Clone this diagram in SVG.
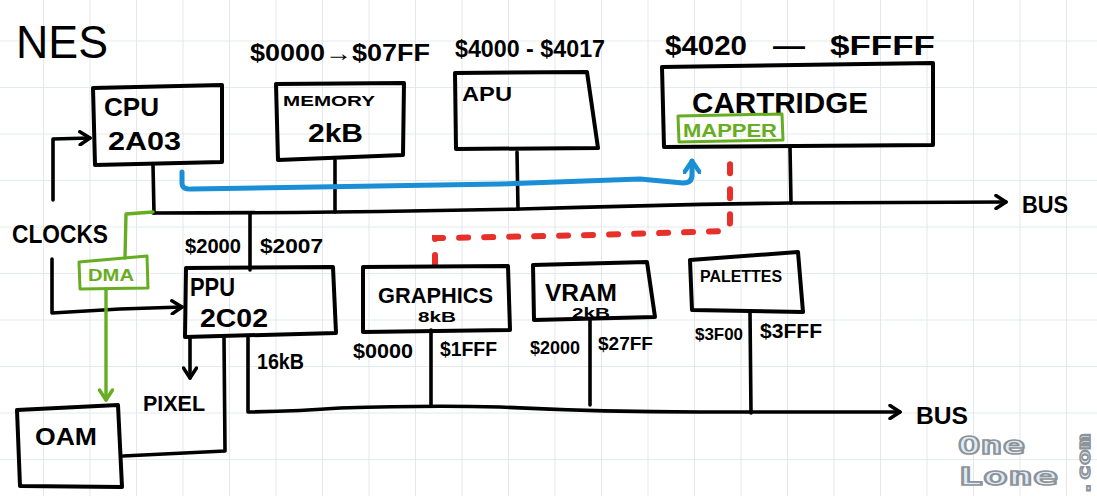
<svg xmlns="http://www.w3.org/2000/svg" width="1097" height="496" viewBox="0 0 1097 496">
<defs>
<pattern id="grid" x="43" y="40.5" width="46.5" height="46.5" patternUnits="userSpaceOnUse">
<path d="M0,0 H46.5 M0,0 V46.5" fill="none" stroke="#dde4e7" stroke-width="1.6"/>
</pattern>
<marker id="arrK" viewBox="0 0 14 16" refX="12" refY="8" markerWidth="14" markerHeight="16" markerUnits="userSpaceOnUse" orient="auto">
<path d="M2,1.5 L12,8 L2,14.5" fill="none" stroke="#000" stroke-width="3.5" stroke-linecap="round" stroke-linejoin="round"/>
</marker>
<marker id="arrG" viewBox="0 0 14 16" refX="12" refY="8" markerWidth="14" markerHeight="16" markerUnits="userSpaceOnUse" orient="auto">
<path d="M2,1.5 L12,8 L2,14.5" fill="none" stroke="#66ad22" stroke-width="3.5" stroke-linecap="round" stroke-linejoin="round"/>
</marker>
<marker id="arrB" viewBox="0 0 16 18" refX="13" refY="9" markerWidth="16" markerHeight="18" markerUnits="userSpaceOnUse" orient="auto">
<path d="M2,1.5 L13,9 L2,16.5" fill="none" stroke="#1b8fd6" stroke-width="4.5" stroke-linecap="round" stroke-linejoin="round"/>
</marker>
</defs>
<style>
.bx{fill:none;stroke:#000;stroke-width:4;stroke-linejoin:round;stroke-linecap:round}
.gbx{fill:none;stroke:#66ad22;stroke-width:3;stroke-linejoin:round}
.ln{fill:none;stroke:#000;stroke-width:3.6;stroke-linecap:round;stroke-linejoin:round}
.gln{fill:none;stroke:#66ad22;stroke-width:3.4;stroke-linecap:round;stroke-linejoin:round}
.bln{fill:none;stroke:#1b8fd6;stroke-width:5;stroke-linecap:round;stroke-linejoin:round}
.rln{fill:none;stroke:#e8302a;stroke-width:6;stroke-linecap:round;stroke-dasharray:9 16}
text{font-family:"Liberation Sans","DejaVu Sans",sans-serif;fill:#000;font-weight:bold}
.g{fill:#66ad22}
.title{font-weight:normal}
.logo{font-family:"DejaVu Sans Mono","Liberation Mono",monospace;font-weight:bold;fill:#dcecf8;stroke:#8e9398;stroke-width:1.6}
</style>
<rect width="1097" height="496" fill="#ffffff"/>
<rect width="1097" height="496" fill="url(#grid)"/>

<g id="connectors">
<path class="ln" d="M153,213 Q240,213 335,212 Q430,211 520,209 Q650,205 790,203 L1006,202" marker-end="url(#arrK)"/>
<path class="ln" d="M153,165 L154,213"/>
<path class="ln" d="M335,160 L335,212"/>
<path class="ln" d="M517,152 L518,209"/>
<path class="ln" d="M790,147 L791,203"/>
<path class="ln" d="M250,213 L250,270"/>
<path class="ln" d="M53,200 L53,139 L90,138" marker-end="url(#arrK)"/>
<path class="ln" d="M52,259 L52,313 L120,309 L182,307" marker-end="url(#arrK)"/>
<path class="gln" d="M125,258 L126,214 L153,212"/>
<path class="gln" d="M106,289 L106,400" marker-end="url(#arrG)"/>
<path class="ln" d="M190,337 L190,378" marker-end="url(#arrK)"/>
<path class="ln" d="M224,338 L225,451 L123,456"/>
<path class="ln" d="M248,337 L248,412 Q300,411 340,408 Q430,405 500,407 Q600,412 700,412 L900,412" marker-end="url(#arrK)"/>
<path class="ln" d="M431,330 L431,405"/>
<path class="ln" d="M590,320 L590,405"/>
<path class="ln" d="M750,312 L751,413"/>
<path class="rln" d="M435,264 L435,238 Q580,236 722,231 Q730,230 730,222 L730,152"/>
<path class="bln" d="M182,172 L182,183 Q182,190 192,189 L500,184 L640,179 L683,183 Q692,183 692,175 L692,161" marker-end="url(#arrB)"/>
</g>

<g id="title"><text class="title" x="16" y="58" font-size="46" textLength="92" lengthAdjust="spacingAndGlyphs">NES</text></g>

<g id="cpu">
<path class="bx" d="M93,88 L222,85 L222,162 L95,165 Z"/>
<text x="104" y="116" font-size="26" textLength="55" lengthAdjust="spacingAndGlyphs">CPU</text>
<text x="108" y="150" font-size="26" textLength="73" lengthAdjust="spacingAndGlyphs">2A03</text>
</g>

<g id="memory">
<text x="250" y="61" font-size="24" textLength="180" lengthAdjust="spacingAndGlyphs">$0000→$07FF</text>
<path class="bx" d="M276,84 L404,83 L403,155 L278,160 Z"/>
<text x="283" y="106" font-size="15" textLength="92" lengthAdjust="spacingAndGlyphs">MEMORY</text>
<text x="308" y="142" font-size="26" textLength="55" lengthAdjust="spacingAndGlyphs">2kB</text>
</g>

<g id="apu">
<text x="455" y="57" font-size="24" textLength="150" lengthAdjust="spacingAndGlyphs">$4000 - $4017</text>
<path class="bx" d="M455,73 L587,72 L598,148 L456,149 Z"/>
<text x="462" y="101" font-size="20" textLength="50" lengthAdjust="spacingAndGlyphs">APU</text>
</g>

<g id="cartridge">
<text y="55" font-size="28"><tspan x="665" textLength="82" lengthAdjust="spacingAndGlyphs">$4020</tspan><tspan x="773" textLength="32" lengthAdjust="spacingAndGlyphs">—</tspan><tspan x="830" textLength="105" lengthAdjust="spacingAndGlyphs">$FFFF</tspan></text>
<path class="bx" d="M662,67 L933,63 L933,145 L664,147 Z"/>
<text x="692" y="113" font-size="30" textLength="176" lengthAdjust="spacingAndGlyphs">CARTRIDGE</text>
<g id="mapper">
<path class="gbx" d="M678,116 L782,114 L783,140 L679,142 Z"/>
<text class="g" x="683" y="137" font-size="19" textLength="94" lengthAdjust="spacingAndGlyphs">MAPPER</text>
</g>
</g>

<g id="bus-top"><text x="1022" y="213" font-size="24" textLength="46" lengthAdjust="spacingAndGlyphs">BUS</text></g>

<g id="clocks"><text x="12" y="243" font-size="26" textLength="96" lengthAdjust="spacingAndGlyphs">CLOCKS</text></g>

<g id="dma">
<path class="gbx" d="M79,262 L147,256 L148,288 L80,289 Z"/>
<text class="g" x="88" y="281" font-size="16" textLength="46" lengthAdjust="spacingAndGlyphs">DMA</text>
</g>

<g id="ppu">
<text x="185" y="253" font-size="20" textLength="56" lengthAdjust="spacingAndGlyphs">$2000</text>
<text x="260" y="253" font-size="20" textLength="63" lengthAdjust="spacingAndGlyphs">$2007</text>
<path class="bx" d="M186,268 L333,267 L336,333 L185,337 Z"/>
<text x="190" y="296" font-size="26" textLength="45" lengthAdjust="spacingAndGlyphs">PPU</text>
<text x="200" y="327" font-size="26" textLength="68" lengthAdjust="spacingAndGlyphs">2C02</text>
<text x="257" y="369" font-size="22" textLength="47" lengthAdjust="spacingAndGlyphs">16kB</text>
</g>

<g id="pixel"><text x="143" y="411" font-size="22" textLength="62" lengthAdjust="spacingAndGlyphs">PIXEL</text></g>

<g id="oam">
<path class="bx" d="M17,410 L118,405 L122,487 L20,486 Z"/>
<text x="35" y="445" font-size="24" textLength="62" lengthAdjust="spacingAndGlyphs">OAM</text>
</g>

<g id="graphics">
<path class="bx" d="M363,267 L508,266 L510,330 L363,332 Z"/>
<text x="378" y="303" font-size="22" textLength="115" lengthAdjust="spacingAndGlyphs">GRAPHICS</text>
<text x="418" y="322" font-size="15" textLength="38" lengthAdjust="spacingAndGlyphs">8kB</text>
<text x="353" y="358" font-size="20" textLength="60" lengthAdjust="spacingAndGlyphs">$0000</text>
<text x="440" y="356" font-size="20" textLength="57" lengthAdjust="spacingAndGlyphs">$1FFF</text>
</g>

<g id="vram">
<path class="bx" d="M533,265 L647,262 L655,317 L534,320 Z"/>
<text x="545" y="301" font-size="24" textLength="72" lengthAdjust="spacingAndGlyphs">VRAM</text>
<text x="572" y="318" font-size="15" textLength="38" lengthAdjust="spacingAndGlyphs">2kB</text>
<text x="530" y="354" font-size="18" textLength="50" lengthAdjust="spacingAndGlyphs">$2000</text>
<text x="598" y="350" font-size="18" textLength="55" lengthAdjust="spacingAndGlyphs">$27FF</text>
</g>

<g id="palettes">
<path class="bx" d="M690,260 L798,252 L803,312 L692,310 Z"/>
<text x="700" y="282" font-size="16" textLength="82" lengthAdjust="spacingAndGlyphs">PALETTES</text>
<text x="695" y="340" font-size="17" textLength="48" lengthAdjust="spacingAndGlyphs">$3F00</text>
<text x="760" y="338" font-size="20" textLength="62" lengthAdjust="spacingAndGlyphs">$3FFF</text>
</g>

<g id="bus-bottom"><text x="916" y="424" font-size="24" textLength="52" lengthAdjust="spacingAndGlyphs">BUS</text></g>

<g id="logo">
<text class="logo" x="958" y="454" font-size="24" textLength="67" lengthAdjust="spacingAndGlyphs">One</text>
<text class="logo" x="958" y="485" font-size="24" textLength="100" lengthAdjust="spacingAndGlyphs">Lone</text>
<text class="logo" transform="translate(1090,496) rotate(-90)" x="0" y="0" font-size="18" textLength="62" lengthAdjust="spacingAndGlyphs">.com</text>
</g>
</svg>
